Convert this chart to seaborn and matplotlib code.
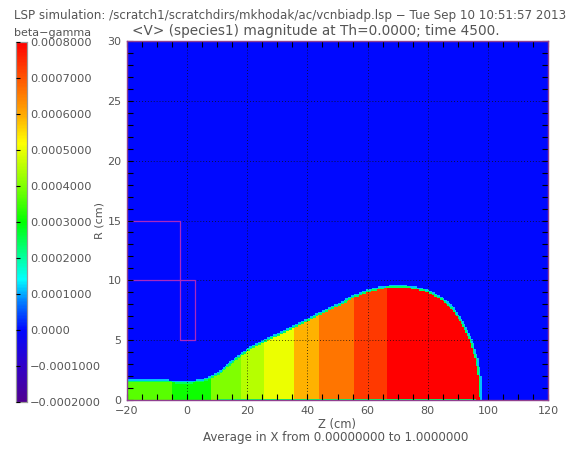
import numpy as np
import matplotlib
matplotlib.use("Agg")
import matplotlib.pyplot as plt
import seaborn as sns
from matplotlib.colors import LinearSegmentedColormap
from matplotlib.path import Path

# ---------------- data ----------------
# upper edge of the filled plume (Z in cm, R in cm)
boundary_z = [-20, -10, 0, 5, 8, 11, 16, 22, 28, 33, 38, 44, 50, 55, 60, 65,
              70, 75, 80, 85, 88, 91, 94, 96, 97, 97.3]
boundary_r = [1.5, 1.5, 1.4, 1.5, 1.8, 2.2, 3.3, 4.4, 5.1, 5.7, 6.3, 7.1, 7.8,
              8.5, 9.0, 9.3, 9.4, 9.3, 9.0, 8.3, 7.6, 6.5, 5.0, 3.3, 1.7, 0.0]
# vertical bands of |<V>| inside the plume
band_edges = [-20, -5, 8, 18, 25.5, 35.5, 44, 55.5, 66.5, 100]
band_values = [0.00037, 0.00031, 0.00040, 0.00045, 0.00050, 0.00059,
               0.00066, 0.00073, 0.00080]
edge_inner_value = 0.00024
edge_outer_value = 0.00011
background_value = 0.0
# magenta outline (electrode)
rect_z = [-20, -2.5, -2.5, 2.5, 2.5, -20]
rect_r = [15, 15, 5, 5, 10, 10]

cbar_ticks = [0.0008, 0.0007, 0.0006, 0.0005, 0.0004, 0.0003, 0.0002,
              0.0001, 0.0, -0.0001, -0.0002]
cbar_labels = ["0.0008000", "0.0007000", "0.0006000", "0.0005000",
               "0.0004000", "0.0003000", "0.0002000", "0.0001000",
               "0.0000", "\u22120.0001000", "\u22120.0002000"]
cmap_nodes = [-0.0002, -0.0001, 0.0, 0.00008, 0.00014, 0.00022, 0.0003,
              0.0004, 0.00052, 0.0006, 0.0007, 0.0008]
cmap_colors = ["#500090", "#3000c8", "#0008ff", "#0080ff", "#00ffff",
               "#00ff80", "#00ff00", "#80ff00", "#ffff00", "#ffaa00",
               "#ff5500", "#ff0000"]
z_major = [-20, 0, 20, 40, 60, 80, 100, 120]
r_major = [0, 5, 10, 15, 20, 25, 30]
z_grid = [0, 20, 40, 60, 80, 100]
r_grid = [5, 10, 15, 20, 25]

# ---------------- build the field ----------------
vmin, vmax = -0.0002, 0.0008
dz, dr = 0.5, 0.125
nz, nr = int(140 / dz), int(30 / dr)
zc = -20 + dz * (np.arange(nz) + 0.5)
rc = dr * (np.arange(nr) + 0.5)
Z, R = np.meshgrid(zc, rc)
pts = np.column_stack([Z.ravel(), 4 * R.ravel()])

verts = [(-30, -5), (-30, 4 * boundary_r[0])]
verts += [(z, 4 * r) for z, r in zip(boundary_z, boundary_r)]
verts += [(boundary_z[-1], -5), (-30, -5)]
path = Path(verts, closed=True)

def inside(rad):
    if rad == 0:
        return path.contains_points(pts).reshape(Z.shape)
    a = path.contains_points(pts, radius=rad)
    b = path.contains_points(pts, radius=-rad)
    return (a | b).reshape(Z.shape)

m0 = inside(0)
m1 = inside(0.9)
m2 = inside(1.8)

field = np.full(Z.shape, background_value)
field[m2] = edge_outer_value
field[m1] = edge_inner_value
band_idx = np.clip(np.digitize(zc, band_edges) - 1, 0, len(band_values) - 1)
band_field = np.array(band_values)[band_idx][None, :].repeat(nr, axis=0)
field[m0] = band_field[m0]
bottom = (R < dr) & (Z > 10) & (Z < 96)
field[bottom] = edge_inner_value

cmap = LinearSegmentedColormap.from_list(
    "lsp", list(zip([(v - vmin) / (vmax - vmin) for v in cmap_nodes], cmap_colors)))

# ---------------- figure ----------------
sns.set_style("white")
plt.rcParams["font.family"] = ["DejaVu Sans"]
W, H = 578, 449
fig = plt.figure(figsize=(W / 100, H / 100), dpi=100)
ax = fig.add_axes([127 / W, 1 - 400 / H, 421 / W, 359 / H])
cax = fig.add_axes([16 / W, 1 - 402 / H, 11 / W, 360 / H])

tc = "#555555"
fs = 8.0

sns.heatmap(field, ax=ax, cmap=cmap, vmin=vmin, vmax=vmax, cbar_ax=cax,
            xticklabels=False, yticklabels=False, rasterized=True,
            cbar_kws={"ticks": cbar_ticks})
ax.set_xlim(0, nz)
ax.set_ylim(0, nr)
ax.set_axisbelow(False)

for s in ax.spines.values():
    s.set_visible(True)
    s.set_color("#904090")
    s.set_linewidth(1.0)
    s.set_zorder(5)

ax.set_xticks([(z + 20) / dz for z in z_major])
ax.set_xticklabels([str(z).replace("-", "\u2212") for z in z_major])
ax.set_xticks([(z + 20) / dz for z in range(-20, 121, 5)], minor=True)
ax.set_yticks([r / dr for r in r_major])
ax.set_yticklabels([str(r) for r in r_major], rotation=0)
ax.set_yticks([r / dr for r in range(0, 31)], minor=True)
ax.tick_params(axis="both", which="both", direction="in", top=True,
               right=True, bottom=True, left=True, length=4, width=0.8,
               color="black", labelcolor=tc, labelsize=fs)
ax.tick_params(axis="x", which="major", pad=4)
ax.tick_params(axis="y", which="major", pad=4)

for z in z_grid:
    ax.axvline((z + 20) / dz, ls=(0, (1, 2.5)), color="#101010", lw=0.6)
for r in r_grid:
    ax.axhline(r / dr, ls=(0, (1, 2.5)), color="#101010", lw=0.6)

ax.plot([(z + 20) / dz for z in rect_z], [r / dr for r in rect_r],
        color="#a828c0", lw=0.9)

ax.set_xlabel("Z (cm)", color=tc, fontsize=8.3, labelpad=2)
ax.set_ylabel("R (cm)", color=tc, fontsize=8.0, labelpad=2)

# colorbar styling
cax.set_yticks(cbar_ticks)
cax.set_yticklabels(cbar_labels)
cax.set_axisbelow(False)
cax.tick_params(axis="y", which="both", left=True, right=False,
                labelleft=False, labelright=True, direction="in",
                length=3, width=0.8, color="black", labelcolor=tc,
                labelsize=8.2, pad=2)
cax.minorticks_off()
for s in cax.spines.values():
    s.set_visible(True)
    s.set_color("#999999")
    s.set_linewidth(0.8)

fig.text(14 / W, 1 - 15 / H,
         "LSP simulation: /scratch1/scratchdirs/mkhodak/ac/vcnbiadp.lsp \u2212 Tue Sep 10 10:51:57 2013",
         ha="left", va="center", color=tc, fontsize=8.6)
fig.text(14 / W, 1 - 33 / H, "beta\u2212gamma", ha="left", va="center",
         color=tc, fontsize=8.0)
fig.text(132 / W, 1 - 31 / H,
         "<V> (species1) magnitude at Th=0.0000; time 4500.",
         ha="left", va="center", color=tc, fontsize=9.8)
fig.text(336 / W, 1 - 437.5 / H, "Average in X from 0.00000000 to 1.0000000",
         ha="center", va="center", color=tc, fontsize=8.6)

fig.savefig("out.png", dpi=100)
